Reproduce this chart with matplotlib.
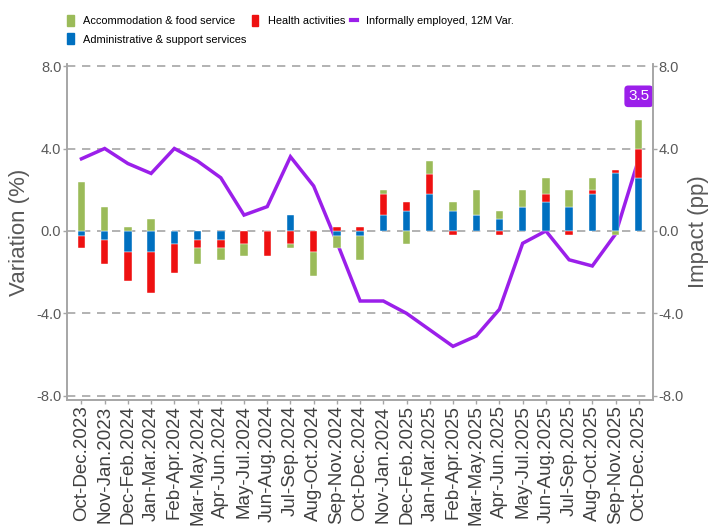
import numpy as np
import matplotlib.pyplot as plt
from matplotlib.patches import Patch
from matplotlib.lines import Line2D

plt.rcParams['font.family'] = ['Liberation Sans', 'DejaVu Sans']

periods = ['Oct-Dec.2023', 'Nov-Jan.2023', 'Dec-Feb.2024', 'Jan-Mar.2024', 'Feb-Apr.2024',
           'Mar-May.2024', 'Apr-Jun.2024', 'May-Jul.2024', 'Jun-Aug.2024', 'Jul-Sep.2024',
           'Aug-Oct.2024', 'Sep-Nov.2024', 'Oct-Dec.2024', 'Nov-Jan.2024', 'Dec-Feb.2025',
           'Jan-Mar.2025', 'Feb-Apr.2025', 'Mar-May.2025', 'Apr-Jun.2025', 'May-Jul.2025',
           'Jun-Aug.2025', 'Jul-Sep.2025', 'Aug-Oct.2025', 'Sep-Nov.2025', 'Oct-Dec.2025']

# impact in pp, stacked in this order: admin, health, accommodation
admin = [-0.25, -0.44, -1.03, -1.03, -0.63, -0.44, -0.44, 0.0, 0.0, 0.77,
         0.0, -0.24, -0.24, 0.79, 0.99, 1.78, 0.99, 0.79, 0.58, 1.18,
         1.39, 1.18, 1.78, 2.79, 2.59]
health = [-0.58, -1.18, -1.39, -1.98, -1.39, -0.39, -0.39, -0.63, -1.23, -0.63,
          -1.03, 0.18, 0.17, 0.99, 0.40, 1.00, -0.22, 0.0, -0.20, 0.0,
          0.39, -0.20, 0.19, 0.19, 1.41]
accom = [2.37, 1.18, 0.18, 0.58, 0.0, -0.79, -0.60, -0.60, 0.0, -0.19,
         -1.18, -0.58, -1.18, 0.19, -0.62, 0.60, 0.40, 1.18, 0.40, 0.79,
         0.81, 0.79, 0.62, -0.22, 1.39]
# informally employed, 12 month variation (%)
informal = [3.5, 4.0, 3.27, 2.79, 4.0, 3.39, 2.58, 0.77, 1.18, 3.6,
            2.18, -0.55, -3.4, -3.4, -4.0, -4.8, -5.6, -5.1, -3.8, -0.6,
            0.0, -1.4, -1.7, -0.15, 3.5]

c_green = '#9BBB59'
c_red = '#EE1111'
c_blue = '#0070C0'
c_purple = '#9B1FEA'
c_axis = '#A6A6A6'
c_text = '#595959'

fig = plt.figure(figsize=(7.11, 5.29), dpi=100)
ax = fig.add_axes([0.094, 0.244, 0.824, 0.635])
ax2 = ax.twinx()

x = np.arange(len(periods))
pos = np.zeros(len(x))
neg = np.zeros(len(x))
for vals, col in [(admin, c_blue), (health, c_red), (accom, c_green)]:
    v = np.array(vals)
    bottom = np.where(v >= 0, pos, neg)
    ax.bar(x, v, 0.32, bottom=bottom, color=col, edgecolor='white', linewidth=0.3, zorder=3)
    pos += np.where(v >= 0, v, 0)
    neg += np.where(v < 0, v, 0)

ax.plot(x, informal, color=c_purple, lw=2.5, zorder=2, solid_joinstyle='miter')

ax.annotate('3.5', xy=(x[-1], informal[-1]), xytext=(0, 45), textcoords='offset points',
            ha='center', va='center', color='white', fontsize=11,
            bbox=dict(boxstyle='round,pad=0.25', fc=c_purple, ec='none'))

for a in (ax, ax2):
    a.set_ylim(-8.2, 8.1)
    a.set_yticks([-8, -4, 0, 4, 8])
    a.set_yticklabels(['-8.0', '-4.0', '0.0', '4.0', '8.0'])
    a.spines['top'].set_visible(False)
    for s in ('left', 'right', 'bottom'):
        a.spines[s].set_color(c_axis)
        a.spines[s].set_linewidth(1.2)
    a.tick_params(axis='y', colors=c_axis, labelcolor=c_text, labelsize=10.5, length=3, width=1, pad=1)

ax.set_xlim(-0.63, len(x) - 0.4)
ax.set_xticks(x)
ax.set_xticklabels(periods, rotation=90, fontsize=13.5, color='#404040')
ax.tick_params(axis='x', colors=c_axis, labelcolor='#404040', length=3, width=1, pad=1)

for v in [-8, -4, 0, 4, 8]:
    ax.axhline(v, color=c_axis, lw=1.2, ls=(0, (5, 4)), zorder=1)

ax.set_ylabel('Variation (%)', fontsize=16, color=c_text, labelpad=4)
ax2.set_ylabel('Impact (pp)', fontsize=16, color=c_text, labelpad=3)

handles = [Patch(color=c_green), Patch(color=c_blue), Patch(color=c_red),
           Line2D([0], [0], color=c_purple, lw=3)]
names = ['Accommodation & food service', 'Administrative & support services',
         'Health activities', 'Informally employed, 12M Var.']
fig.legend(handles, names, loc='upper left', bbox_to_anchor=(0.081, 0.99), ncol=3,
           frameon=False, fontsize=7.9, handlelength=0.55, handleheight=1.15,
           handletextpad=0.85, columnspacing=0.55, labelspacing=0.65)

fig.savefig('out.png', dpi=100)
